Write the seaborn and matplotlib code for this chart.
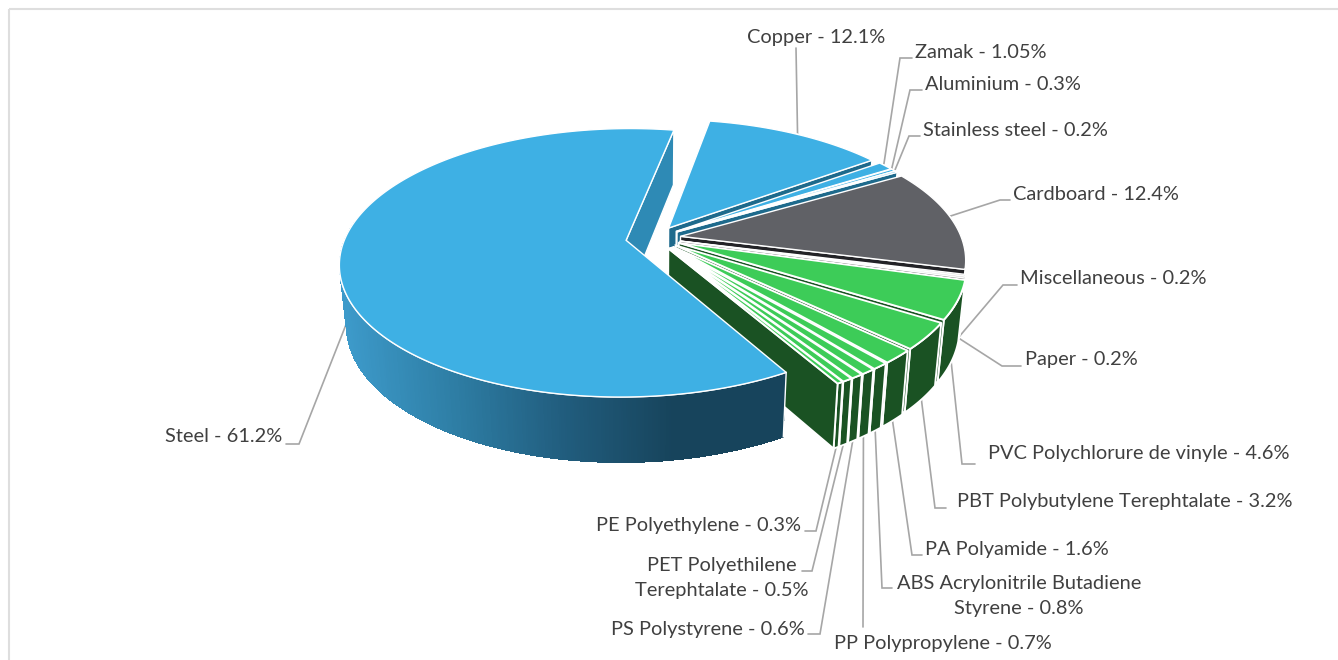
import numpy as np
import matplotlib
matplotlib.use("Agg")
import matplotlib.pyplot as plt
from matplotlib.patches import Polygon, Rectangle
from matplotlib.collections import PolyCollection
import seaborn as sns

# ---------- data ----------
materials = ["Copper", "Zamak", "Aluminium", "Stainless steel", "Cardboard",
             "Miscellaneous", "Paper", "PVC Polychlorure de vinyle",
             "PBT Polybutylene Terephtalate", "PA Polyamide",
             "ABS Acrylonitrile Butadiene\nStyrene", "PP Polypropylene",
             "PS Polystyrene", "PET Polyethilene\nTerephtalate",
             "PE Polyethylene", "Steel"]
shares = [12.1, 1.05, 0.3, 0.2, 12.4, 0.2, 0.2, 4.6, 3.2, 1.6, 0.8, 0.7, 0.6, 0.5, 0.3, 61.2]
share_text = ["12.1", "1.05", "0.3", "0.2", "12.4", "0.2", "0.2", "4.6", "3.2", "1.6",
              "0.8", "0.7", "0.6", "0.5", "0.3", "61.2"]
groups = ["metal", "metal", "metal", "metal", "board", "misc", "misc", "plastic", "plastic",
          "plastic", "plastic", "plastic", "plastic", "plastic", "plastic", "steel"]

# ---------- style ----------
TOP = {"metal": "#3EB0E4", "steel": "#3EB0E4", "board": "#606166", "misc": "#BDBDBD", "plastic": "#3DCC58"}
SIDE = {"metal": "#1E6A8C", "steel": "#2E8AB5", "board": "#232327", "misc": "#3A3A3A", "plastic": "#1A5223"}
EDGE = {"plastic": 1.35}

# perspective of the disc
CX, CY, RX, RY, K = 655, 238, 281, 129.7, 0.167
HEIGHT, KH, SHRINK = 59.5, 0.09, 0.978
START = 10.4
EXPLODE = {"steel": 0.104}
EXPLODE_OTHER = 0.092


def top_xy(X, Y):
    w = 1 + K * Y
    return CX + RX * X / w, CY - RY * Y / w


def bot_xy(X, Y):
    x, y = top_xy(X, Y)
    return CX + (x - CX) * SHRINK, y + HEIGHT / (1 + KH * Y)


def world(theta, apex, r=1.0):
    t = np.radians(theta)
    return apex[0] + r * np.sin(t), apex[1] + r * np.cos(t)


sns.set_theme(style="white", rc={"axes.facecolor": "white", "figure.facecolor": "white"})
plt.rcParams["font.family"] = ["Lato", "DejaVu Sans"]

fig = plt.figure(figsize=(13.38, 6.6), dpi=100)
ax = fig.add_axes([0, 0, 1, 1])
ax.set_xlim(0, 1338)
ax.set_ylim(660, 0)
ax.axis("off")
ax.add_patch(Rectangle((8.5, 8.5), 1500, 800, fill=False, ec="#DEDEDE", lw=1.5, zorder=0))

steel_wall = sns.blend_palette(["#3D9ACA", "#2E7EA5", "#215D7E", "#17445C", "#17445C"], 200)

fractions = np.array(shares) / sum(shares)
edges = START + 360 * np.concatenate([[0], np.cumsum(fractions)])
apexes = []
z = 1
for i, g in enumerate(groups):
    a0, a1 = edges[i], edges[i + 1]
    mid = np.radians((a0 + a1) / 2)
    e = EXPLODE.get(g, EXPLODE_OTHER)
    lw = EDGE.get(g, 1.0)
    apex = (e * np.sin(mid), e * np.cos(mid))
    apexes.append(apex)
    th = np.linspace(a0, a1, max(3, int(a1 - a0) * 3))
    WX, WY = world(th, apex)
    tx, ty = top_xy(WX, WY)
    bx, by = bot_xy(WX, WY)
    # outer wall
    if g == "steel":
        strips, cols = [], []
        for j in range(len(th) - 1):
            if WY[j] > 0.12:
                continue
            strips.append([(tx[j], ty[j]), (tx[j + 1], ty[j + 1]), (bx[j + 1], by[j + 1]), (bx[j], by[j])])
            frac = np.clip((tx[j] - 340) / 445, 0, 0.999)
            cols.append(steel_wall[int(frac * 200)])
        ax.add_collection(PolyCollection(strips, facecolors=cols, edgecolors="none", antialiased=False, zorder=z))
        ax.plot([tx[0], bx[0]], [ty[0], by[0]], color="white", lw=1.0, zorder=z)
    else:
        ax.add_patch(Polygon(np.r_[np.c_[tx, ty], np.c_[bx, by][::-1]], fc=SIDE[g], ec="white", lw=lw, zorder=z))
    ax.plot(tx, ty, color="white", lw=1.0, zorder=z)
    # cut face at clockwise end
    ex, ey = world(a1, apex)
    p0, p1 = top_xy(*apex), top_xy(ex, ey)
    q1, q0 = bot_xy(ex, ey), bot_xy(*apex)
    ax.add_patch(Polygon([p0, p1, q1, q0], fc=SIDE[g], ec="white", lw=lw, zorder=z))
    # top surface
    ax.add_patch(Polygon(np.r_[[p0], np.c_[tx, ty]], fc=TOP[g], ec="white", lw=lw, zorder=z, joinstyle="miter"))
    z += 1

# ---------- labels ----------
# leader: (position inside slice, rim fraction, wall bottom?), elbow, hook end, text position, alignment
LAB = {
    "Copper": (0.535, 0.96, False, (796, 48), None, (816, 37), "center"),
    "Zamak": (0.5, 0.99, False, (900, 58), (912, 58), (915, 53), "left"),
    "Aluminium": (0.5, 0.99, False, (910, 90), (922, 90), (925, 84), "left"),
    "Stainless steel": (0.5, 0.99, False, (909, 136), (920, 136), (923, 130), "left"),
    "Cardboard": (0.5, 0.96, False, (1000, 200), (1010, 200), (1013, 195), "left"),
    "Miscellaneous": (0.5, 1.0, True, (1003, 285), (1017, 285), (1020, 278), "left"),
    "Paper": (0.5, 1.0, True, (1002, 366), (1021, 366), (1025, 360), "left"),
    "PVC Polychlorure de vinyle": (0.5, 1.0, True, (962, 464), (975, 464), (988, 453), "left"),
    "PBT Polybutylene Terephtalate": (0.5, 1.0, True, (935, 508), (946, 508), (957, 502), "left"),
    "PA Polyamide": (0.5, 1.0, True, (912, 555), (922, 555), (925, 549), "left"),
    "ABS Acrylonitrile Butadiene\nStyrene": (0.5, 1.0, True, (882, 588), (892, 588), (1019, 596), "center"),
    "PP Polypropylene": (0.5, 1.0, True, (863, 627), None, (943, 643), "center"),
    "PS Polystyrene": (0.5, 1.0, True, (820, 634), (808, 634), (805, 629), "right"),
    "PET Polyethilene\nTerephtalate": (0.5, 1.0, True, (812, 571), (802, 571), (722, 578), "center"),
    "PE Polyethylene": (0.5, 1.0, True, (816, 531), (805, 531), (801, 525), "right"),
    "Steel": (0.5, 1.0, True, (299, 444), (286, 444), (282, 437), "right"),
}
for i, name in enumerate(materials):
    at, r, on_wall, elbow, hook, pos, ha = LAB[name]
    wx, wy = world(edges[i] + at * (edges[i + 1] - edges[i]), apexes[i], r)
    sx, sy = bot_xy(wx, wy) if on_wall else top_xy(wx, wy)
    pts = [(sx, sy), elbow] + ([hook] if hook else [])
    ax.plot(*zip(*pts), color="#A6A6A6", lw=1.2, zorder=0.5, solid_joinstyle="miter")
    ax.text(pos[0], pos[1], f"{name} - {share_text[i]}%", ha=ha, va="center", multialignment="center",
            fontsize=14.4, color="#404040", zorder=30, linespacing=1.6)

fig.savefig("out.png", dpi=100)
